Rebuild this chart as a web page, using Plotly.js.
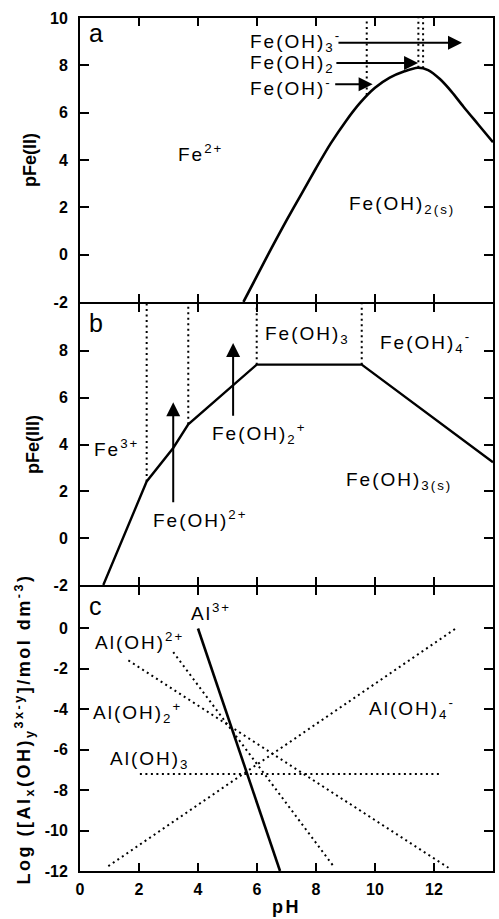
<!DOCTYPE html>
<html><head><meta charset="utf-8">
<script src="https://cdn.plot.ly/plotly-3.0.1.min.js"></script>
<style>
html,body{margin:0;padding:0;background:#fff;}
.annotation-text{letter-spacing:2px;}
.ytitle,.xtitle{letter-spacing:2.5px;}
</style></head><body><div id="chart" style="width:499px;height:919px;"></div>
<script>
// ---------- Panel a : pFe(II) ----------
const phA  = [5.54, 6.0, 6.5, 7.0, 7.5, 8.0, 8.5, 9.0, 9.5, 10.0, 10.5, 11.0, 11.45, 11.8, 12.2, 12.6, 13.0, 13.5, 14.0];
const pFe2 = [-2, -0.9, 0.3, 1.45, 2.55, 3.65, 4.7, 5.62, 6.42, 7.05, 7.48, 7.75, 7.9, 7.8, 7.42, 6.88, 6.25, 5.5, 4.75];
const boundA_ph  = [9.72, 11.47, 11.63];
const boundA_low = [6.75, 7.9, 7.88];
const arrowA_tail = [8.71, 8.64, 8.6];
const arrowA_tip  = [12.95, 11.46, 9.92];
const arrowA_y    = [8.95, 8.1, 7.2];

// ---------- Panel b : pFe(III) ----------
const phB  = [0.79, 2.26, 3.16, 3.67, 5.99, 9.55, 14.0];
const pFe3 = [-2, 2.42, 3.85, 4.86, 7.41, 7.41, 3.24];
const boundB_ph  = [2.26, 3.67, 5.99, 9.55];
const boundB_low = [2.42, 4.86, 7.41, 7.41];
const arrowB_x    = [3.16, 5.19];
const arrowB_tail = [1.47, 5.16];
const arrowB_tip  = [5.8, 8.34];

// ---------- Panel c : Al species ----------
const al3_ph   = [4.0, 6.78],   al3_log   = [0, -12];
const alOH_ph  = [3.16, 8.59],  alOH_log  = [-1.17, -11.76];
const alOH2_ph = [1.64, 12.49], alOH2_log = [-1.58, -11.84];
const alOH3_ph = [2.03, 12.26], alOH3_log = [-7.2, -7.2];
const alOH4_ph = [0.96, 12.77], alOH4_log = [-11.76, 0.03];

// ---------- axes ----------
const phRange = [0, 14];
const pRangeA = [-2, 10], pRangeB = [-2, 10], logRange = [-12, 2.05];
const xTicks = [0, 2, 4, 6, 8, 10, 12, 14];
const yTicksA = [-2, 0, 2, 4, 6, 8, 10];
const yTicksB = [-2, 0, 2, 4, 6, 8];
const yTicksC = [-12, -10, -8, -6, -4, -2, 0];

const FONT = 'Liberation Sans, Arial, sans-serif';
const BLACK = '#000';
const DOT = '2px,3.5px';

function vlines(xs, lows, top, xa, ya) {
  const x = [], y = [];
  xs.forEach((p, i) => { x.push(p, p, null); y.push(lows[i], top, null); });
  return {x, y, xaxis: xa, yaxis: ya, mode: 'lines', line: {color: BLACK, width: 2, dash: DOT}, hoverinfo: 'skip', showlegend: false};
}
function line(x, y, xa, ya, width, dash, shape) {
  return {x, y, xaxis: xa, yaxis: ya, mode: 'lines', line: {color: BLACK, width, dash: dash || 'solid', shape: shape || 'linear', smoothing: 0.8}, hoverinfo: 'skip', showlegend: false};
}

const traces = [
  line(phA, pFe2, 'x3', 'y3', 2.6, 'solid', 'spline'),
  vlines(boundA_ph, boundA_low, pRangeA[1], 'x3', 'y3'),
  line(phB, pFe3, 'x2', 'y2', 2.4),
  vlines(boundB_ph, boundB_low, pRangeB[1], 'x2', 'y2'),
  line(al3_ph, al3_log, 'x', 'y', 2.6),
  line(alOH_ph, alOH_log, 'x', 'y', 2, DOT),
  line(alOH2_ph, alOH2_log, 'x', 'y', 2, DOT),
  line(alOH3_ph, alOH3_log, 'x', 'y', 2, DOT),
  line(alOH4_ph, alOH4_log, 'x', 'y', 2, DOT),
];

const labFont = {family: FONT, size: 19, color: BLACK};
function lab(text, x, y, xr, yr, xanchor) {
  return {text, x, y, xref: xr, yref: yr, showarrow: false, font: labFont, xanchor: xanchor || 'center', yanchor: 'middle'};
}
function panelLetter(text, x, y, xr, yr) {
  return {text, x, y, xref: xr, yref: yr, showarrow: false, font: {family: FONT, size: 25, color: BLACK}, xanchor: 'left', yanchor: 'middle'};
}
function arrow(x, y, ax, ay, xr, yr) {
  return {text: '', x, y, ax, ay, xref: xr, yref: yr, axref: xr, ayref: yr, showarrow: true,
          arrowhead: 2, arrowsize: 1.4, arrowwidth: 2, arrowcolor: BLACK, standoff: 0, startstandoff: 0};
}

const annotations = [
  panelLetter('a', 0.25, 9.35, 'x3', 'y3'),
  lab('Fe<sup>2+</sup>', 4.07, 4.3, 'x3', 'y3'),
  lab('Fe(OH)<sub>2(s)</sub>', 10.9, 2.1, 'x3', 'y3'),
  lab('Fe(OH)<sub>3</sub><sup>-</sup>', 5.68, 9.0, 'x3', 'y3', 'left'),
  lab('Fe(OH)<sub>2</sub>', 5.68, 8.05, 'x3', 'y3', 'left'),
  lab('Fe(OH)<sup>-</sup>', 5.68, 7.1, 'x3', 'y3', 'left'),

  panelLetter('b', 0.25, 9.2, 'x2', 'y2'),
  lab('Fe<sup>3+</sup>', 1.25, 3.85, 'x2', 'y2'),
  lab('Fe(OH)<sup>2+</sup>', 4.07, 0.8, 'x2', 'y2'),
  lab('Fe(OH)<sub>2</sub><sup>+</sup>', 6.07, 4.45, 'x2', 'y2'),
  lab('Fe(OH)<sub>3</sub>', 7.7, 8.68, 'x2', 'y2'),
  lab('Fe(OH)<sub>4</sub><sup>-</sup>', 11.7, 8.35, 'x2', 'y2'),
  lab('Fe(OH)<sub>3(s)</sub>', 10.8, 2.45, 'x2', 'y2'),

  panelLetter('c', 0.25, 1.13, 'x', 'y'),
  lab('Al<sup>3+</sup>', 4.44, 0.8, 'x', 'y'),
  lab('Al(OH)<sup>2+</sup>', 2.03, -0.6, 'x', 'y'),
  lab('Al(OH)<sub>2</sub><sup>+</sup>', 1.95, -4.14, 'x', 'y'),
  lab('Al(OH)<sub>3</sub>', 2.37, -6.5, 'x', 'y'),
  lab('Al(OH)<sub>4</sub><sup>-</sup>', 11.26, -3.94, 'x', 'y'),
];
arrowA_tip.forEach((t, i) => annotations.push(arrow(t, arrowA_y[i], arrowA_tail[i], arrowA_y[i], 'x3', 'y3')));
arrowB_x.forEach((x, i) => annotations.push(arrow(x, arrowB_tip[i], x, arrowB_tail[i], 'x2', 'y2')));

const tickFont = {family: FONT, size: 16, color: BLACK, weight: 'bold'};
const titleFont = {family: FONT, size: 18, color: BLACK, weight: 'bold'};
function xax(anchor, labels) {
  return {range: phRange, tickvals: xTicks, ticktext: xTicks.map(String), showticklabels: labels, anchor,
          ticks: 'inside', ticklen: 8, tickwidth: 2, tickcolor: BLACK, showline: true, linewidth: 2, linecolor: BLACK,
          mirror: 'ticks', showgrid: false, zeroline: false, tickfont: tickFont, ticklabelstandoff: 3};
}
function yax(anchor, range, tv, domain, title) {
  return {range, tickvals: tv, ticktext: tv.map(String), anchor, domain,
          ticks: 'inside', ticklen: 9, tickwidth: 2, tickcolor: BLACK, showline: true, linewidth: 2, linecolor: BLACK,
          mirror: 'ticks', showgrid: false, zeroline: false, tickfont: tickFont, ticklabelstandoff: 7,
          title: {text: title, font: titleFont, standoff: 9}};
}

const xa1 = xax('y', true);
xa1.title = {text: 'pH', font: titleFont, standoff: 3};

const layout = {
  width: 499, height: 919,
  margin: {l: 80, r: 6, t: 18, b: 48},
  paper_bgcolor: '#fff', plot_bgcolor: '#fff',
  showlegend: false,
  font: {family: FONT, color: BLACK},
  xaxis: xa1,
  xaxis2: xax('y2', false),
  xaxis3: xax('y3', false),
  yaxis: yax('x', logRange, yTicksC, [0, 0.3329], 'Log ([Al<sub>x</sub>(OH)<sub>y</sub><sup>3x-y</sup>]/mol dm<sup>-3</sup>)'),
  yaxis2: yax('x2', pRangeB, yTicksB, [0.3353, 0.6647], 'pFe(III)'),
  yaxis3: yax('x3', pRangeA, yTicksA, [0.6671, 1], 'pFe(II)'),
  annotations
};

Plotly.newPlot('chart', traces, layout, {staticPlot: true, displayModeBar: false});
</script></body></html>
